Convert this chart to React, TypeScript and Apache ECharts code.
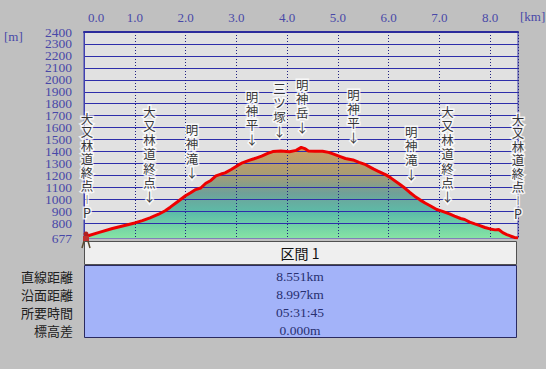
import React, { useEffect, useRef } from 'react';
import * as echarts from 'echarts';

// ---- profile data (horizontal distance km, elevation m) ----
const distanceKm = [
  0, 0.05, 0.3, 0.56, 0.82, 1.0, 1.15, 1.3, 1.47, 1.6, 1.7, 1.85, 2.0, 2.1, 2.2, 2.3, 2.4, 2.5,
  2.6, 2.7, 2.78, 2.9, 3.02, 3.12, 3.25, 3.35, 3.5, 3.62, 3.72, 3.88, 4.05, 4.18, 4.28, 4.35,
  4.42, 4.55, 4.7, 4.82, 4.92, 5.05, 5.15, 5.3, 5.42, 5.55, 5.7, 5.8, 5.95, 6.05, 6.22, 6.32,
  6.42, 6.52, 6.62, 6.72, 6.82, 6.95, 7.05, 7.2, 7.3, 7.42, 7.5, 7.6, 7.7, 7.8, 7.9, 8.0, 8.1,
  8.17, 8.25, 8.33, 8.4, 8.48, 8.551,
];
const elevationM = [
  677, 692, 724, 756, 784, 803, 822, 846, 876, 905, 935, 982, 1030, 1055, 1082, 1095, 1135, 1158,
  1196, 1212, 1222, 1250, 1282, 1306, 1326, 1340, 1362, 1385, 1400, 1405, 1398, 1410, 1435, 1425,
  1405, 1403, 1403, 1393, 1378, 1358, 1342, 1330, 1310, 1290, 1255, 1235, 1205, 1178, 1127, 1095,
  1058, 1025, 996, 970, 947, 915, 902, 878, 860, 840, 832, 810, 795, 781, 765, 753, 745,
  748, 722, 706, 694, 682, 677,
];

// ---- place annotations ----
const placeNames = ['大又林道終点', '大又林道終点', '明神滝', '明神平', '三ツ塚', '明神岳', '明神平', '明神滝', '大又林道終点', '大又林道終点'];
const placeMarks = ['P', '↓', '↓', '↓', '↓', '↓', '↓', '↓', '↓', 'P'];
const placeKm = [0, 1.29, 2.13, 3.31, 3.85, 4.3, 5.31, 6.45, 7.16, 8.551];
const placeLabelBaseM = [836, 961, 1165, 1444, 1511, 1544, 1461, 1152, 961, 827];

// ---- axes ----
// y tick labels, split over two coincident axes so the tightly packed labels are not auto-hidden
const yLabelValuesA = [677, 900, 1100, 1300, 1500, 1700, 1900, 2100, 2300];
const yLabelValuesB = [800, 1000, 1200, 1400, 1600, 1800, 2000, 2200, 2400];
const yGridValues = [800, 900, 1000, 1100, 1200, 1300, 1400, 1500, 1600, 1700, 1800, 1900, 2000, 2100, 2200, 2300];
const xMaxKm = 8.551;
const yMinM = 677;
const yMaxM = 2400;

// ---- summary table ----
const sectionTitle = '区間 1';
const rowLabels = ['直線距離', '沿面距離', '所要時間', '標高差'];
const rowValues = ['8.551km', '8.997km', '05:31:45', '0.000m'];

const AXIS_BLUE = '#4848a8';

export default function App() {
  const ref = useRef<HTMLDivElement>(null);
  useEffect(() => {
    if (!ref.current) return;
    const chart = echarts.init(ref.current, undefined, { renderer: 'svg' });
    const profile = distanceKm.map((d, i) => [d, elevationM[i]]);

    const labelData = placeNames.map((n, i) => {
      const isP = placeMarks[i] === 'P';
      return {
        value: [placeKm[i], placeLabelBaseM[i]],
        name: n,
        label: {
          lineHeight: isP ? 13.4 : 14.3,
          offset: i === 0 ? [3, 0] : [0, 0],
        },
      };
    });

    const tableGraphics: any[] = [
      {
        type: 'rect', shape: { x: 84.5, y: 241.5, width: 432, height: 23 },
        style: { fill: '#efefef', stroke: '#505050', lineWidth: 1 },
      },
      {
        type: 'rect', shape: { x: 84.5, y: 265.5, width: 432, height: 72 },
        style: { fill: '#a3b3f9', stroke: '#2a2a60', lineWidth: 1 },
      },
      {
        type: 'text', x: 300, y: 253,
        style: { text: sectionTitle, fill: '#111', font: '14px "Noto Sans CJK JP"', textAlign: 'center', textVerticalAlign: 'middle' },
      },
    ];
    rowLabels.forEach((t, i) => {
      tableGraphics.push({
        type: 'text', x: 73, y: 276 + i * 18,
        style: { text: t, fill: '#202020', font: '13px "Noto Sans CJK JP"', textAlign: 'right', textVerticalAlign: 'middle' },
      });
      tableGraphics.push({
        type: 'text', x: 300, y: 276 + i * 18,
        style: { text: rowValues[i], fill: '#283070', font: '13.5px "Liberation Serif"', textAlign: 'center', textVerticalAlign: 'middle' },
      });
    });

    const hiker: any[] = [
      { type: 'circle', shape: { cx: 86, cy: 234, r: 2.5 }, style: { fill: '#b02020' }, z: 20 },
      { type: 'rect', shape: { x: 83, y: 236, width: 6, height: 5 }, style: { fill: '#c03030' }, z: 20 },
      { type: 'line', shape: { x1: 84, y1: 241, x2: 82, y2: 248 }, style: { stroke: '#5a4a30', lineWidth: 1.5 }, z: 20 },
      { type: 'line', shape: { x1: 88, y1: 241, x2: 90, y2: 248 }, style: { stroke: '#5a4a30', lineWidth: 1.5 }, z: 20 },
    ];

    const yLabelStyle = {
      color: AXIS_BLUE, fontFamily: 'Liberation Serif', fontSize: 13.5, margin: 12,
      showMinLabel: true, showMaxLabel: true,
      formatter: (v: number) => String(v),
    };

    chart.setOption({
      animation: false,
      backgroundColor: '#c0c0c0',
      grid: {
        left: 84, right: 28, top: 32, bottom: 131,
        show: true, backgroundColor: '#e1e1e1', borderColor: '#4040b0', borderWidth: 1,
      },
      xAxis: {
        type: 'value', position: 'top', min: 0, max: xMaxKm, interval: 1, z: 3,
        axisLine: { show: true, lineStyle: { color: '#2c2c9c', width: 2 } },
        axisTick: { show: false },
        axisLabel: {
          color: AXIS_BLUE, fontFamily: 'Liberation Serif', fontSize: 13, margin: 8,
          showMaxLabel: false,
          formatter: (v: number) => (v === 0 ? '{first|0.0}' : v.toFixed(1)),
          rich: { first: { padding: [0, 0, 0, 24], color: AXIS_BLUE, fontFamily: 'Liberation Serif', fontSize: 13 } },
        },
        splitLine: { show: true, lineStyle: { color: '#202080', type: [1, 2], width: 1 } },
      },
      yAxis: [
        {
          type: 'value', min: yMinM, max: yMaxM, z: 3, position: 'left',
          axisLine: { show: true, lineStyle: { color: '#4040b0' } },
          axisTick: { show: false, customValues: yGridValues },
          axisLabel: { ...yLabelStyle, customValues: yLabelValuesA },
          splitLine: { show: true, lineStyle: { color: '#2e2eaa', width: 1 } },
        },
        {
          type: 'value', min: yMinM, max: yMaxM, z: 3, position: 'left', offset: 0,
          axisLine: { show: false },
          axisTick: { show: false, customValues: yLabelValuesB },
          axisLabel: { ...yLabelStyle, customValues: yLabelValuesB },
          splitLine: { show: false },
        },
      ],
      series: [
        {
          type: 'line', data: profile, symbol: 'none', z: 2, silent: true,
          lineStyle: { width: 0 },
          areaStyle: {
            opacity: 1,
            color: new echarts.graphic.LinearGradient(0, 0, 0, 1, [
              { offset: 0, color: '#d0a060' },
              { offset: 0.3, color: '#a89c74' },
              { offset: 0.5, color: '#70a098' },
              { offset: 0.72, color: '#5cbca8' },
              { offset: 1, color: '#86e4a4' },
            ]),
          },
        },
        {
          type: 'line', data: profile, symbol: 'none', z: 5, silent: true,
          lineStyle: { color: '#ee0000', width: 3 },
        },
        {
          type: 'scatter', data: labelData, z: 6, silent: true,
          symbol: 'circle', symbolSize: 0.1, itemStyle: { color: 'rgba(0,0,0,0)' },
          label: {
            show: true, position: 'top', distance: 0, color: '#000',
            fontFamily: 'Noto Sans CJK JP', fontSize: 12.5, lineHeight: 14.3, align: 'center',
            textBorderColor: '#ffffff', textBorderWidth: 3,
            formatter: (p: any) => {
              const i = p.dataIndex;
              const chars = placeNames[i].split('').join('\n');
              if (placeMarks[i] === 'P') return chars + '\n{b||}\nP';
              return chars + '\n' + placeMarks[i];
            },
            rich: {
              b: { fontSize: 8, lineHeight: 13.4, color: '#000', textBorderColor: '#ffffff', textBorderWidth: 3, fontFamily: 'Noto Sans CJK JP' },
            },
          },
        },
      ],
      graphic: [
        { type: 'text', x: 4, y: 30, style: { text: '[m]', fill: AXIS_BLUE, font: '13px "Liberation Serif"' } },
        { type: 'text', x: 520, y: 10, style: { text: '[km]', fill: AXIS_BLUE, font: '13px "Liberation Serif"' } },
        ...tableGraphics,
        ...hiker,
      ],
    });
    return () => chart.dispose();
  }, []);
  return <div ref={ref} style={{ position: 'fixed', left: 0, top: 0, width: 546, height: 369 }} />;
}
